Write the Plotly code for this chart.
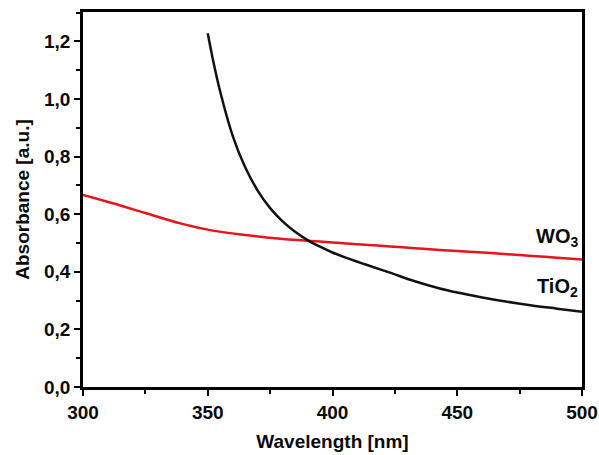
import plotly.graph_objects as go

# TiO2 absorbance curve
tio2_x = [350, 352, 355, 360, 365, 370, 375, 380, 385, 390, 395, 400, 405, 413, 423, 433, 443, 450, 460, 470, 480, 490, 500]
tio2_y = [1.228, 1.14, 1.025, 0.872, 0.763, 0.682, 0.621, 0.575, 0.539, 0.510, 0.487, 0.467, 0.450, 0.426, 0.397, 0.367, 0.342, 0.328, 0.311, 0.296, 0.283, 0.272, 0.261]

# WO3 absorbance curve
wo3_x = [300, 312, 325, 339, 352, 366, 379, 386, 395, 403, 413, 423, 433, 443, 450, 460, 470, 480, 490, 500]
wo3_y = [0.667, 0.638, 0.604, 0.568, 0.543, 0.527, 0.515, 0.510, 0.505, 0.500, 0.494, 0.488, 0.482, 0.476, 0.472, 0.467, 0.461, 0.455, 0.449, 0.443]

font_family = "Liberation Sans, Arial, sans-serif"
ink = "#0a0a0a"

fig = go.Figure()
fig.add_trace(go.Scatter(x=wo3_x, y=wo3_y, mode="lines", line=dict(color="#e8141c", width=2.5, shape="spline"), showlegend=False))
fig.add_trace(go.Scatter(x=tio2_x, y=tio2_y, mode="lines", line=dict(color="#111111", width=2.5, shape="spline"), showlegend=False))

fig.add_annotation(x=499, y=0.52, xref="x", yref="y", text="<b>WO<sub>3</sub></b>", showarrow=False,
                   xanchor="right", font=dict(family=font_family, size=20, color=ink))
fig.add_annotation(x=499, y=0.345, xref="x", yref="y", text="<b>TiO<sub>2</sub></b>", showarrow=False,
                   xanchor="right", font=dict(family=font_family, size=20, color=ink))

axis_common = dict(
    showline=True, linecolor="black", linewidth=2.5, mirror=True,
    ticks="outside", ticklen=6, tickwidth=2, tickcolor="black",
    showgrid=False, zeroline=False, automargin=False,
    tickfont=dict(family=font_family, size=19, color=ink, weight="bold"),
)

fig.update_xaxes(range=[300, 500], dtick=50, tick0=300,
                 minor=dict(ticks="outside", ticklen=4, tickwidth=2, dtick=25, tick0=300, tickcolor="black"),
                 title=dict(text="<b>Wavelength [nm]</b>", font=dict(family=font_family, size=19, color=ink), standoff=14),
                 **axis_common)
fig.update_yaxes(range=[0, 1.302], dtick=0.2, tick0=0, tickformat=".1f",
                 minor=dict(ticks="outside", ticklen=4, tickwidth=2, dtick=0.1, tick0=0, tickcolor="black"),
                 title=dict(text="<b>Absorbance [a.u.]</b>", font=dict(family=font_family, size=19, color=ink), standoff=10),
                 **axis_common)

fig.update_layout(
    width=599, height=455,
    margin=dict(l=83, r=17, t=12, b=68),
    plot_bgcolor="white", paper_bgcolor="white",
    separators=",.",
)

fig.write_html("out.html")
